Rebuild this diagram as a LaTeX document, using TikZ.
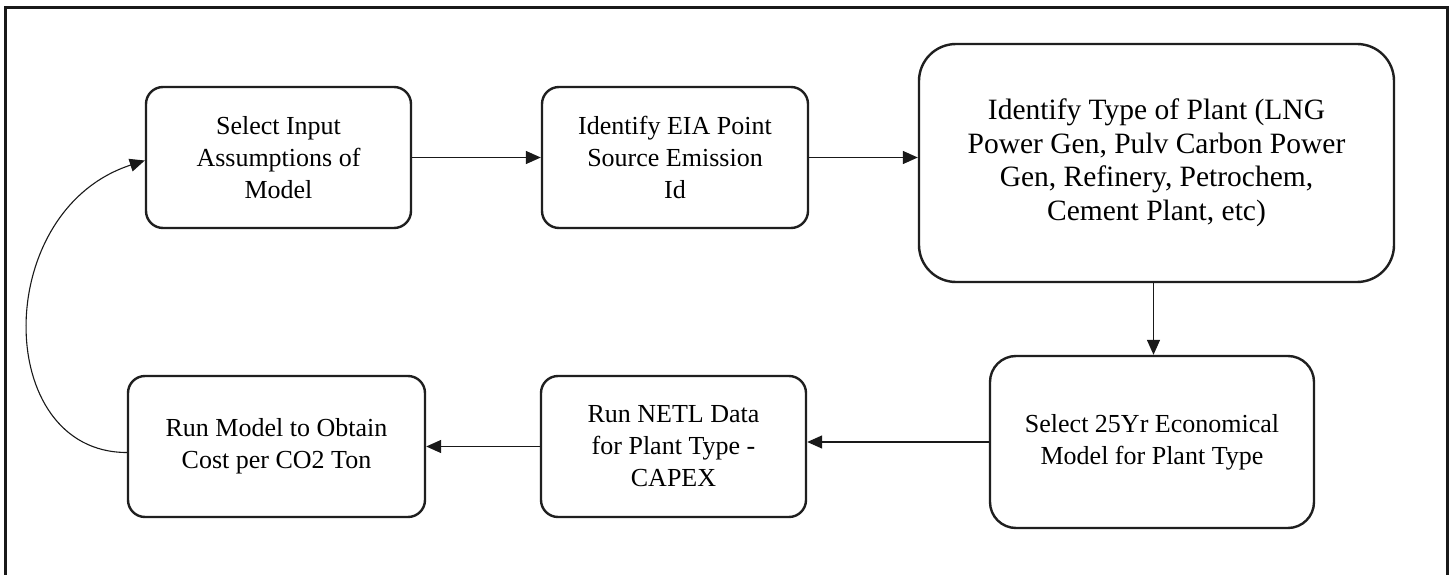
\documentclass[tikz,border=0pt]{standalone}
\usepackage{fontspec}
\setmainfont{Liberation Serif}
\usetikzlibrary{arrows.meta}

\begin{document}
\begin{tikzpicture}[x=1pt,y=-1pt,
  stepbox/.style={draw=black!88, line width=2.4pt, fill=white, align=center,
    inner sep=0pt, font=\fontsize{26}{32}\selectfont, rounded corners=17pt},
  flow/.style={draw=black!90, line width=1.4pt,
    -{Triangle[length=15pt,width=13pt]}},
  loopback/.style={draw=black!90, line width=1.1pt,
    -{Triangle[length=15pt,width=13pt]}}]
  \useasboundingbox (0,0) rectangle (1452,575);
  \clip (0,0) rectangle (1452,575);
  \fill[white] (0,0) rectangle (1452,575);
  % frame around the whole chart
  \draw[line width=3pt, black!90] (5,8) rectangle (1447,620);

  % top row
  \node[stepbox, minimum width=265pt, minimum height=141pt] (b1) at (278.5,157.5)
    {Select Input\\Assumptions of\\Model};
  \node[stepbox, minimum width=266pt, minimum height=141pt] (b2) at (675,157.5)
    {Identify EIA Point\\Source Emission\\Id};
  \node[stepbox, minimum width=475pt, minimum height=238pt, rounded corners=37pt,
    font=\fontsize{29.5}{33.5}\selectfont]
    (b3) at (1156.5,163)
    {Identify Type of Plant (LNG\\Power Gen, Pulv Carbon Power\\Gen, Refinery, Petrochem,\\Cement Plant, etc)};

  % bottom row
  \node[stepbox, minimum width=324pt, minimum height=172pt, rounded corners=26pt]
    (b5) at (1152,442)
    {Select 25Yr Economical\\Model for Plant Type};
  \node[stepbox, minimum width=265pt, minimum height=141pt] (b4) at (673.5,446.5)
    {Run NETL Data\\for Plant Type -\\CAPEX};
  \node[stepbox, minimum width=297pt, minimum height=141pt] (b6) at (276.5,446.5)
    {Run Model to Obtain\\Cost per CO2 Ton};

  % connectors
  \draw[flow] (b1.east) -- (b2.west);
  \draw[flow] (b2.east) -- (b2.east -| b3.west);
  \draw[flow] ([xshift=-3pt]b3.south) -- ([xshift=-3pt]b3.south |- b5.north);
  \draw[flow] (b5.west) -- (b5.west -| b4.east);
  \draw[flow] (b4.west) -- (b6.east);
  \draw[loopback] ([yshift=-6pt]b6.west) .. controls +(-134,0) and +(-154,50) .. ([yshift=-3pt]b1.west);
\end{tikzpicture}
\end{document}
